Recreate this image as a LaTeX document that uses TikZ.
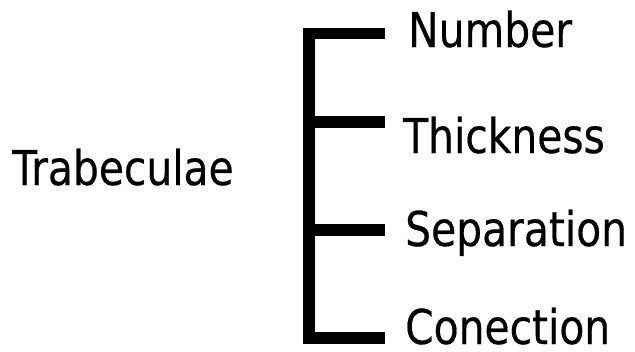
\documentclass[tikz,border=0pt]{standalone}
\usepackage{fontspec}
\setmainfont{DejaVu Sans}[FakeStretch=0.85,FakeBold=0.4]
\begin{document}
\begin{tikzpicture}[x=1pt,y=-1pt,
  lbl/.style={anchor=base west,inner sep=0pt,font=\fontsize{48}{58}\selectfont},
  brk/.style={line width=11.5pt,line join=miter,line cap=butt,draw=black}]
\useasboundingbox[fill=white] (0,0) rectangle (635,351);
\node[lbl] (root) at (12,185) {Trabeculae};
\node[lbl] (n1) at (408,47) {Number};
\node[lbl] (n2) at (403,153) {Thickness};
\node[lbl] (n3) at (405,246) {Separation};
\node[lbl] (n4) at (405,344) {Conection};
\coordinate (t1) at (309,33.5);
\coordinate (e1) at (385,33.5);
\coordinate (t2) at (309,122);
\coordinate (e2) at (385,122);
\coordinate (t3) at (309,230);
\coordinate (e3) at (385,230);
\coordinate (t4) at (309,338);
\coordinate (e4) at (385,338);
\draw[brk] (e1) -- (t1) -- (t4) -- (e4);
\draw[brk] (t2) -- (e2);
\draw[brk] (t3) -- (e3);
\end{tikzpicture}
\end{document}
